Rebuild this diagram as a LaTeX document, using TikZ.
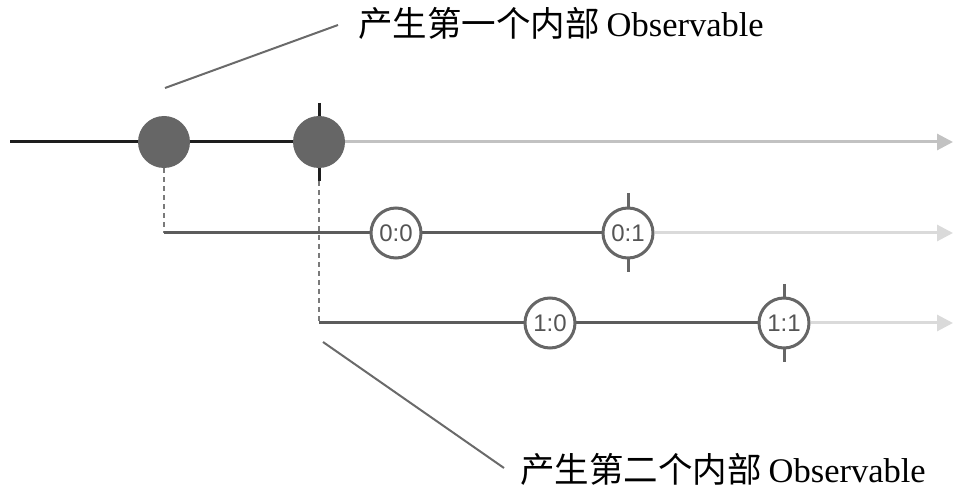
\documentclass[tikz,border=0pt]{standalone}
\usepackage{fontspec}
\setmainfont{Liberation Serif}
\newfontfamily\cjk{Noto Sans CJK SC}
\newfontfamily\lsans{Liberation Sans}
\usetikzlibrary{arrows.meta,backgrounds}
\definecolor{fillgray}{HTML}{666666}
\definecolor{darkline}{HTML}{5C5C5C}
\definecolor{mainline}{HTML}{1E1E1E}
\definecolor{topfaint}{HTML}{C2C2C2}
\definecolor{faint}{HTML}{DADADA}
\definecolor{dashgray}{HTML}{7A7A7A}
\definecolor{leadergray}{HTML}{6A6A6A}
\definecolor{txtgray}{HTML}{555555}
\tikzset{
  event/.style={circle,fill=fillgray,draw=none,minimum size=52pt,inner sep=0pt},
  value/.style={circle,fill=white,draw=fillgray,line width=3pt,minimum size=50pt,inner sep=0pt,
    font=\lsans\fontsize{24}{28}\selectfont,text=txtgray},
  mainseg/.style={line width=3pt,draw=mainline},
  darkseg/.style={line width=3pt,draw=darkline},
  topfade/.style={line width=3pt,draw=topfaint,-{Triangle[length=16pt,width=16pt,fill=topfaint]}},
  fade/.style={line width=3pt,draw=faint,-{Triangle[length=16pt,width=16pt,fill=faint]}},
  tickmain/.style={line width=3pt,draw=mainline},
  tickval/.style={line width=3pt,draw=fillgray},
  dashlink/.style={line width=2pt,draw=dashgray,dash pattern=on 5pt off 4pt},
  leader/.style={line width=2pt,draw=leadergray},
  caption/.style={anchor=base west,inner sep=0pt,font=\fontsize{34.5}{40}\selectfont}
}
\begin{document}
\begin{tikzpicture}[x=1pt,y=-1pt]
\useasboundingbox (0,0) rectangle (962,497);
% nodes
\node[event] (a) at (164,142) {};
\node[event] (b) at (319,142) {};
\node[value] (c00) at (396,233) {0:0};
\node[value] (c01) at (628,233) {0:1};
\node[value] (c10) at (550,323) {1:0};
\node[value] (c11) at (784,323) {1:1};
\coordinate (start) at (10,142);
\coordinate (end0) at (953,142);
\coordinate (s1) at (164,233);
\coordinate (end1) at (953,233);
\coordinate (s2) at (319,323);
\coordinate (end2) at (953,323);
\coordinate (btop) at (319,103);
\coordinate (bbot) at (319,181);
\coordinate (t01a) at (628,193);
\coordinate (t01b) at (628,272);
\coordinate (t11a) at (784,284);
\coordinate (t11b) at (784,362);
\coordinate (l1a) at (165,88);
\coordinate (l1b) at (338,25);
\coordinate (l2a) at (323,342);
\coordinate (l2b) at (504,468);
\node[caption] (cap1) at (358,37) {{\cjk 产生第一个内部}\kern7pt Observable};
\node[caption] (cap2) at (520,482) {{\cjk 产生第二个内部}\kern7pt Observable};
\begin{scope}[on background layer]
  % main line
  \draw[mainseg] (start) -- (a.center) -- (b.center);
  \draw[topfade] (b.east) -- (end0);
  \draw[tickmain] (btop) -- (bbot);
  % first inner
  \draw[dashlink] (a.south) -- (s1);
  \draw[darkseg] (s1) -- (c00.center) -- (c01.center);
  \draw[fade] (c01.east) -- (end1);
  \draw[tickval] (t01a) -- (t01b);
  % second inner
  \draw[dashlink] (bbot) -- (s2);
  \draw[darkseg] (s2) -- (c10.center) -- (c11.center);
  \draw[fade] (c11.east) -- (end2);
  \draw[tickval] (t11a) -- (t11b);
  % leaders
  \draw[leader] (l1a) -- (l1b);
  \draw[leader] (l2a) -- (l2b);
\end{scope}
\end{tikzpicture}
\end{document}
